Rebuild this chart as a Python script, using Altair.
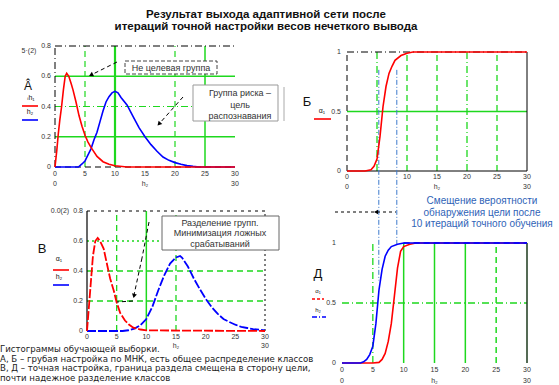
import altair as alt
import pandas as pd

# ---------------- data ----------------
ticks_x = [0, 5, 10, 15, 20, 25, 30]
ticks_x_labels = ["0", "5", "10", "15", "20", "25", "30"]

# Panel A: histograms after coarse tuning
a_red_x = [0, 0.3, 0.55, 0.8, 1.1, 1.4, 1.7, 1.95, 2.3, 2.7, 3.0, 3.5, 4.0, 4.5, 5.0, 5.5, 6.0, 7.0, 8.0, 9.0, 10.0, 12.0, 30.0]
a_red_y = [0, 0.11, 0.22, 0.31, 0.40, 0.51, 0.60, 0.62, 0.60, 0.55, 0.51, 0.43, 0.34, 0.27, 0.21, 0.165, 0.13, 0.07, 0.035, 0.018, 0.008, 0.0, 0.0]
a_blue_x = [0, 3.9, 4.5, 5, 5.5, 6, 6.5, 7, 7.5, 8, 8.5, 9, 9.5, 10, 10.5, 11, 12, 13, 14, 15, 16, 17, 18, 19, 20, 21, 22, 23, 24, 30]
a_blue_y = [0, 0, 0.02, 0.04, 0.08, 0.12, 0.18, 0.23, 0.30, 0.37, 0.43, 0.465, 0.49, 0.50, 0.49, 0.46, 0.41, 0.335, 0.26, 0.20, 0.148, 0.104, 0.066, 0.044, 0.029, 0.018, 0.009, 0.004, 0.0, 0.0]

# Panel B (Б): output after coarse tuning
b_red_x = [0, 3, 4, 4.5, 5, 5.5, 6, 6.5, 7, 7.5, 8, 9, 10, 11, 30]
b_red_y = [0, 0, 0.01, 0.04, 0.10, 0.29, 0.54, 0.71, 0.82, 0.88, 0.93, 0.97, 0.99, 1, 1]
b_marks_x = [5.3, 8.3]

# Panel V (В): histograms after fine tuning
v_red_x = [0, 0.3, 0.6, 1.0, 1.4, 1.8, 2.2, 2.8, 3.4, 3.9, 4.5, 5.0, 5.6, 6.4, 7.0, 7.8, 9.0, 10.0, 30]
v_red_y = [0, 0.15, 0.30, 0.50, 0.60, 0.62, 0.60, 0.55, 0.44, 0.35, 0.27, 0.19, 0.12, 0.07, 0.045, 0.022, 0.01, 0.004, 0.0]
v_blue_x = [0, 6, 7, 8, 9, 10, 11, 12, 13, 14, 15, 15.7, 16, 17, 18, 19, 20, 21, 22, 23, 24, 25, 26, 27, 28, 29, 30]
v_blue_y = [0, 0, 0.005, 0.016, 0.038, 0.08, 0.16, 0.27, 0.37, 0.45, 0.49, 0.50, 0.49, 0.43, 0.35, 0.28, 0.215, 0.16, 0.116, 0.08, 0.06, 0.042, 0.027, 0.02, 0.013, 0.009, 0.004]

# Panel D (Д): output after fine tuning
d_blue_x = [0, 3, 3.5, 4, 4.5, 5, 5.5, 6, 6.5, 7, 7.5, 8, 9, 10, 30]
d_blue_y = [0, 0, 0.01, 0.03, 0.07, 0.14, 0.33, 0.61, 0.78, 0.89, 0.94, 0.97, 0.99, 1, 1]
d_red_x = [0, 5, 6, 6.5, 7, 7.5, 8, 8.5, 9, 9.5, 10, 11, 12, 30]
d_red_y = [0, 0, 0.005, 0.03, 0.08, 0.18, 0.33, 0.56, 0.79, 0.93, 0.97, 0.99, 1, 1]

# ---------------- style ----------------
W, H = 559, 385
FONT = "Liberation Sans"
GREEN = "#1ed81e"
RED = "#ff0000"
BLUE = "#0000ff"
MARKBLUE = "#3d7acc"
DASH = [6, 4]
DASHDOT = [7, 3, 1, 3]
DOT = [2, 3]

layers = []


def mk_scales(xr, yr, ydom):
    sx = alt.Scale(domain=[0, 30], range=xr, nice=False, zero=False)
    sy = alt.Scale(domain=ydom, range=yr, nice=False, zero=False)
    return sx, sy


def enc_x(f, s):
    return alt.X(f, type="quantitative", scale=s, axis=None)


def enc_y(f, s):
    return alt.Y(f, type="quantitative", scale=s, axis=None)


def style(color, width, dash):
    kw = dict(color=color, strokeWidth=width)
    if dash:
        kw["strokeDash"] = dash
    return kw


def curve(xv, yv, sx, sy, color, width=1.6, dash=None):
    df = pd.DataFrame({"x": xv, "y": yv})
    return alt.Chart(df).mark_line(**style(color, width, dash)).encode(
        x=enc_x("x", sx), y=enc_y("y", sy))


def vrules(vals, y0, y1, sx, sy, color, width=1.0, dash=None):
    df = pd.DataFrame({"x": vals, "y0": [y0] * len(vals), "y1": [y1] * len(vals)})
    return alt.Chart(df).mark_rule(**style(color, width, dash)).encode(
        x=enc_x("x", sx), y=enc_y("y0", sy), y2="y1")


def hrules(vals, x0, x1, sx, sy, color, width=1.0, dash=None):
    df = pd.DataFrame({"y": vals, "x0": [x0] * len(vals), "x1": [x1] * len(vals)})
    return alt.Chart(df).mark_rule(**style(color, width, dash)).encode(
        y=enc_y("y", sy), x=enc_x("x0", sx), x2="x1")


def xlabels(vals, labels, sx, sy, y0, dy, size=7):
    df = pd.DataFrame({"x": vals, "y": [y0] * len(vals), "t": labels})
    return alt.Chart(df).mark_text(font=FONT, fontSize=size, color="#333333",
                                   baseline="top", dy=dy).encode(
        x=enc_x("x", sx), y=enc_y("y", sy), text="t:N")


def ylabels(vals, labels, sx, sy, dx=-4, size=7):
    df = pd.DataFrame({"x": [0] * len(vals), "y": vals, "t": labels})
    return alt.Chart(df).mark_text(font=FONT, fontSize=size, color="#333333",
                                   align="right", baseline="middle", dx=dx).encode(
        x=enc_x("x", sx), y=enc_y("y", sy), text="t:N")


def txt(t, x, y, size=9, color="#222222", align="center", weight="normal",
        baseline="middle", font=FONT):
    df = pd.DataFrame({"t": [t]})
    return alt.Chart(df).mark_text(font=font, fontSize=size, color=color, align=align,
                                   fontWeight=weight, baseline=baseline).encode(
        x=alt.value(x), y=alt.value(y), text="t:N")


def seg(x0, y0, x1, y1, color="#000000", width=1.0, dash=None):
    df = pd.DataFrame({"t": [0]})
    return alt.Chart(df).mark_rule(**style(color, width, dash)).encode(
        x=alt.value(x0), y=alt.value(y0), x2=alt.value(x1), y2=alt.value(y1))


def box(x0, y0, x1, y1, stroke="#444444", dash=None):
    df = pd.DataFrame({"t": [0]})
    kw = dict(fill="white", stroke=stroke, strokeWidth=1)
    if dash:
        kw["strokeDash"] = dash
    return alt.Chart(df).mark_rect(**kw).encode(
        x=alt.value(x0), y=alt.value(y0), x2=alt.value(x1), y2=alt.value(y1))


def head(x, y, angle, size=30, color="#000000"):
    df = pd.DataFrame({"t": [0]})
    return alt.Chart(df).mark_point(shape="triangle-up", filled=True, color=color,
                                    size=size, angle=angle, opacity=1).encode(
        x=alt.value(x), y=alt.value(y))


# ---------------- title ----------------
layers += [
    txt("Результат  выхода адаптивной сети после", 266, 14.5, 11.5, "#111111", weight="bold"),
    txt("итераций точной настройки весов нечеткого вывода", 266, 27, 11.5, "#111111", weight="bold"),
]

# ---------------- panel A ----------------
sx, sy = mk_scales([55, 235], [167, 46], [0, 0.8])
layers += [
    hrules([0.6, 0.2], 0, 30, sx, sy, GREEN, 1.5),
    hrules([0.4], 0, 30, sx, sy, GREEN, 1.2, DASHDOT),
    vrules([5, 20], 0, 0.8, sx, sy, GREEN, 1.2, DASH),
    vrules([10], 0, 0.8, sx, sy, GREEN, 2.2),
    vrules([25], 0, 0.8, sx, sy, GREEN, 1.5),
    hrules([0.8], 0, 30, sx, sy, "#000000", 1.0, DASHDOT),
    vrules([0], 0, 0.8, sx, sy, "#000000", 1.0, DASHDOT),
    hrules([0], 0, 30, sx, sy, "#000000", 1.2, DASH),
    curve(a_blue_x, a_blue_y, sx, sy, BLUE),
    curve(a_red_x, a_red_y, sx, sy, RED),
    ylabels([0.8, 0.6, 0.4, 0.2, 0], ["0.8", "0.6", "0.4", "0.2", "0"], sx, sy),
    xlabels(ticks_x, ticks_x_labels, sx, sy, 0, 3),
    xlabels([0, 15, 30], ["0", "h₂", "30"], sx, sy, 0, 13),
]
layers += [
    txt("5·(2)", 29, 51, 7, "#333333"),
    txt("Â", 28, 86, 12, "#111111"),
    txt("ᵢh₁", 31, 98, 7, "#111111"),
    seg(22, 106, 38, 106, RED, 1.6),
    txt("h₂", 30, 112, 7, "#111111"),
    seg(22, 120, 38, 120, BLUE, 1.6),
    seg(117, 62, 91, 75, "#000000", 1.0, [4, 3]),
    head(91, 75, 244, 25),
    box(125, 61, 217, 74, "#444444", [4, 2]),
    txt("Не целевая группа", 171, 67.5, 9, "#333333"),
    seg(183, 97, 159, 124, "#000000", 1.0, [4, 3]),
    head(159, 124, 222, 25),
    box(193, 85, 278, 121, "#999999"),
    txt("Группа риска –", 240, 93, 9, "#333333"),
    txt("цель", 240, 105, 9, "#333333"),
    txt("распознавания", 240, 116, 9, "#333333"),
]

# ---------------- panel Б ----------------
sx, sy = mk_scales([347, 527], [171, 52], [0, 1])
layers += [
    hrules([0.5], 0, 30, sx, sy, GREEN, 1.3),
    vrules([5, 20], 0, 1, sx, sy, GREEN, 1.3, DASHDOT),
    vrules([10, 15, 25], 0, 1, sx, sy, GREEN, 1.3, DASH),
    vrules([0], 0, 1, sx, sy, "#000000", 1.0, DASH),
    hrules([1], 0, 30, sx, sy, "#000000", 1.0, DASHDOT),
    vrules([30], 0, 1, sx, sy, "#000000", 1.0),
    hrules([0], 0, 30, sx, sy, "#000000", 1.0),
    vrules([b_marks_x[0]], 0.85, -0.92, sx, sy, MARKBLUE, 1.0, [5, 2, 1, 2]),
    vrules([b_marks_x[1]], 0.85, -0.62, sx, sy, MARKBLUE, 1.0, [5, 2, 1, 2]),
    curve(b_red_x, b_red_y, sx, sy, RED, 1.6),
    ylabels([1, 0.5, 0], ["1", "0.5", "0"], sx, sy, -6),
    xlabels([0, 10, 15, 20, 25, 30], ["0", "10", "15", "20", "25", "30"], sx, sy, 0, 2),
    xlabels([0, 15, 30], ["0", "h₂", "30"], sx, sy, 0, 12),
]
layers += [
    txt("Б", 307, 102, 13, "#111111"),
    txt("α₁", 322, 111, 7, "#111111"),
    seg(314, 119, 331, 119, RED, 1.6),
    seg(284, 87, 284, 121, "#aaaaaa", 1.0),
]

# ---------------- panel В ----------------
sx, sy = mk_scales([87, 265], [331, 211], [0, 0.8])
layers += [
    hrules([0.6], 0, 30, sx, sy, GREEN, 1.3, DOT),
    hrules([0.4, 0.2], 0, 30, sx, sy, GREEN, 1.3, DASH),
    vrules([5, 15], 0, 0.8, sx, sy, GREEN, 1.3, DASH),
    vrules([10], 0, 0.8, sx, sy, GREEN, 1.5),
    hrules([0.8], 0, 30, sx, sy, "#000000", 1.0, [3, 4]),
    vrules([30], 0, 0.8, sx, sy, "#000000", 1.0, DOT),
    vrules([0], 0, 0.8, sx, sy, "#000000", 1.2),
    curve(v_blue_x, v_blue_y, sx, sy, BLUE, 1.8, [9, 2]),
    curve(v_red_x, v_red_y, sx, sy, RED, 1.8, [9, 2]),
    ylabels([0.8, 0.6, 0.4, 0.2, 0], ["0.8", "0.6", "0.4", "0.2", "0"], sx, sy),
    xlabels(ticks_x, ticks_x_labels, sx, sy, 0, 2),
    xlabels([15, 30], ["h₂", "30"], sx, sy, 0, 11),
]
layers += [
    txt("0.0(2)", 60, 211, 7, "#333333"),
    txt("В", 42, 249, 13, "#111111"),
    txt("α₁", 59, 259, 7, "#111111"),
    seg(53, 270, 69, 270, RED, 1.6),
    txt("h₂", 59, 277, 7, "#111111"),
    seg(53, 285, 69, 285, BLUE, 1.6),
    box(162, 216, 279, 250, "#666666"),
    txt("Разделение групп.", 220, 222.5, 9, "#333333"),
    txt("Минимизация ложных", 220, 233, 9, "#333333"),
    txt("срабатываний", 220, 243.5, 9, "#333333"),
    seg(149, 222, 142, 258, "#000000", 1.0, [4, 3]),
    seg(142, 258, 134, 295, "#000000", 1.0, [4, 3]),
    head(134, 296, 192, 25),
    seg(133, 301, 117, 302, "#000000", 1.0, [4, 3]),
]

# ---------------- panel Д ----------------
sx, sy = mk_scales([342, 527], [363, 243], [0, 1])
layers += [
    hrules([0.5], 0, 30, sx, sy, GREEN, 1.3, DASHDOT),
    vrules([5], 0, 1, sx, sy, GREEN, 1.3, DASHDOT),
    vrules([10, 15, 20], 0, 1, sx, sy, GREEN, 1.5),
    vrules([25], 0, 1, sx, sy, GREEN, 1.5, DASH),
    vrules([30], 0, 1, sx, sy, "#1d3a1d", 1.5),
    curve(d_red_x, d_red_y, sx, sy, RED, 1.6),
    curve(d_blue_x, d_blue_y, sx, sy, BLUE, 1.6),
    hrules([1], 10, 30, sx, sy, BLUE, 1.6, DASH),
    ylabels([1, 0.5, 0], ["1", "0.5", "0"], sx, sy, -6),
    xlabels(ticks_x, ticks_x_labels, sx, sy, 0, 3),
    xlabels([0, 15, 30], ["0", "h₂", "30"], sx, sy, 0, 14),
]
layers += [
    txt("Д", 318, 274, 13, "#111111"),
    txt("α₁", 318, 291, 6, "#111111"),
    seg(312, 299, 324, 299, RED, 1.6, [3, 2]),
    txt("h₂", 318, 310, 6, "#111111"),
    seg(312, 317, 326, 317, BLUE, 1.6, [5, 2, 1, 2]),
    txt("Смещение вероятности", 482, 201, 10, "#2f63b7"),
    txt("обнаружения цели после", 482, 213, 10, "#2f63b7"),
    txt("10 итераций точного обучения", 482, 224, 10, "#2f63b7"),
    seg(335, 212, 396, 212, "#000000", 1.0, [3, 3]),
    head(376, 212, 270, 22),
]

# ---------------- caption ----------------
CAP = "DejaVu Sans"
layers += [
    txt("Гистограммы обучающей выборки.", 0, 349, 8.6, "#222222", align="left", font=CAP),
    txt("А, Б – грубая настройка по МНК, есть общее распределение классов", 0, 358.5, 8.6, "#222222", align="left", font=CAP),
    txt("В, Д – точная настройка, граница раздела смещена в сторону цели,", 0, 368, 8.6, "#222222", align="left", font=CAP),
    txt("почти надежное разделение классов", 0, 377.5, 8.6, "#222222", align="left", font=CAP),
]

chart = alt.layer(*layers).resolve_scale(x="independent", y="independent").properties(
    width=W, height=H, padding=0,
    autosize=alt.AutoSizeParams(type="none"),
    background="white",
).configure_view(stroke=None)

chart.save("out.html", embed_options={"renderer": "svg", "actions": False})
